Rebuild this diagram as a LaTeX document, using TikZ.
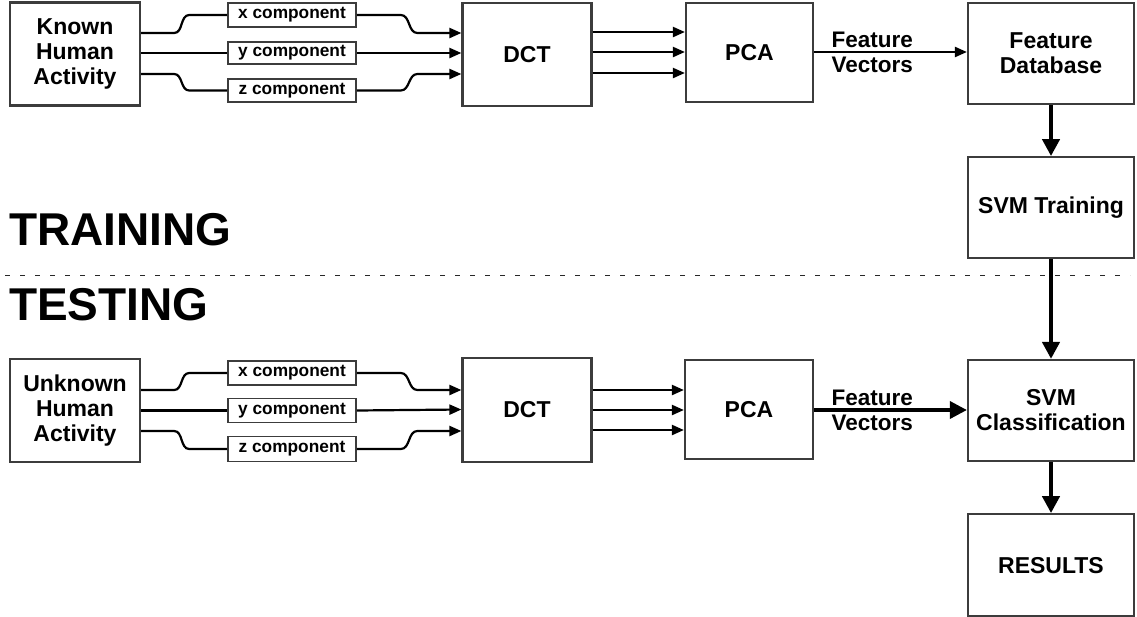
\documentclass[tikz,border=0pt]{standalone}
\usepackage{fontspec}
\setmainfont{Liberation Sans}
\usepackage{xcolor}
\definecolor{boxgrey}{RGB}{60,60,60}
\definecolor{dashgrey}{RGB}{40,40,40}
\usetikzlibrary{arrows.meta,positioning}
\tikzset{
  box/.style={draw=boxgrey,line width=2.2pt,align=center,fill=white,inner sep=0pt,minimum width=129pt,minimum height=103pt,font=\fontsize{23}{25}\selectfont\bfseries},
  wbox/.style={box,minimum width=166pt,minimum height=102pt},
  comp/.style={draw=boxgrey,line width=1.6pt,fill=white,inner sep=0pt,minimum width=128pt,minimum height=24pt,font=\fontsize{17.3}{20}\selectfont\bfseries},
  lab/.style={align=center,inner sep=0pt,font=\fontsize{22.5}{25}\selectfont\bfseries,text=black},
  phase/.style={anchor=base west,inner sep=0pt,font=\fontsize{46}{50}\selectfont\bfseries},
  wire/.style={line width=2.2pt,draw=black},
  arr/.style={wire,-{Triangle[length=12pt,width=10pt]}},
  fatarr/.style={line width=3.5pt,draw=black,-{Triangle[length=17pt,width=17pt]}},
  bigarr/.style={line width=4.5pt,draw=black,-{Triangle[length=17pt,width=17pt]}},
  dashline/.style={line width=1pt,draw=dashgrey,dash pattern=on 5pt off 10pt},
}

\begin{document}
\begin{tikzpicture}[x=1pt,y=-1pt]
    \useasboundingbox (0,0) rectangle (1137,616);
    % training
    \node[box,minimum width=130pt] (known) at (75,54) {Known\\Human\\Activity};
    \node[comp] (xc1) at (292,15) {x component};
    \node[comp,minimum height=22pt] (yc1) at (292,53) {y component};
    \node[comp,minimum height=23pt] (zc1) at (292,90.5) {z component};
    \node[box] (dct1) at (527,54.5) {DCT};
    \node[box,minimum width=127pt,minimum height=99pt] (pca1) at (749.5,52.5) {PCA};
    \node[wbox,minimum height=101pt] (fdb) at (1051,53.5) {Feature\\Database};
    \node[wbox,minimum height=101pt,below=51pt of fdb] (svmt) {SVM Training};
    \draw[wire] ([yshift=21pt]known.east) -- ++(33,0) to[out=0,in=180] ([xshift=-38pt]xc1.west) -- (xc1.west);
    \draw[wire] ([yshift=1pt]known.east) -- (yc1.west);
    \draw[wire] ([yshift=-20pt]known.east) -- ++(33,0) to[out=0,in=180] ([xshift=-38pt]zc1.west) -- (zc1.west);
    \draw[arr] (xc1.east) -- ++(44,0) to[out=0,in=180] ([xshift=-44pt,yshift=21.5pt]dct1.west) -- ([yshift=21.5pt]dct1.west);
    \draw[arr] (yc1.east) -- ([yshift=1.5pt]dct1.west);
    \draw[arr] (zc1.east) -- ++(44,0) to[out=0,in=180] ([xshift=-44pt,yshift=-19.5pt]dct1.west) -- ([yshift=-19.5pt]dct1.west);
    \foreach \s in {22.5,2.5,-18.5}
      \draw[arr] ([yshift=\s pt]dct1.east) -- ([yshift=\s pt]dct1.east -| pca1.west);
    \draw[arr] ([yshift=0.5pt]pca1.east) -- ([yshift=0.5pt]pca1.east -| fdb.west) node[lab,pos=0.38] {Feature\\Vectors};
    \draw[bigarr] (fdb.south) -- (svmt.north);
    % divider
    \node[phase] (train) at (9,245) {TRAINING};
    \draw[dashline] (5,275) -- (1130,275);
    \node[phase] (test) at (9,320) {TESTING};
    % testing
    \node[box,minimum width=130pt] (unknown) at (75,410.5) {Unknown\\Human\\Activity};
    \node[comp] (xc2) at (292,373) {x component};
    \node[comp] (yc2) at (292,410.5) {y component};
    \node[comp,minimum height=25pt] (zc2) at (292,449) {z component};
    \node[box,minimum height=104pt] (dct2) at (527,410) {DCT};
    \node[box,minimum width=128pt,minimum height=99pt] (pca2) at (749,409.5) {PCA};
    \node[wbox,minimum height=101pt] (svmc) at (1051,410.5) {SVM\\Classification};
    \node[wbox,below=51pt of svmc] (res) {RESULTS};
    \draw[wire] ([yshift=20.5pt]unknown.east) -- ++(33,0) to[out=0,in=180] ([xshift=-38pt]xc2.west) -- (xc2.west);
    \draw[wire] (unknown.east) -- (yc2.west);
    \draw[wire] ([yshift=-20.5pt]unknown.east) -- ++(33,0) to[out=0,in=180] ([xshift=-38pt]zc2.west) -- (zc2.west);
    \draw[arr] (xc2.east) -- ++(44,0) to[out=0,in=180] ([xshift=-44pt,yshift=20pt]dct2.west) -- ([yshift=20pt]dct2.west);
    \draw[arr] (yc2.east) -- ([yshift=0.5pt]dct2.west);
    \draw[arr] (zc2.east) -- ++(44,0) to[out=0,in=180] ([xshift=-44pt,yshift=-21pt]dct2.west) -- ([yshift=-21pt]dct2.west);
    \foreach \s in {20,0,-20}
      \draw[arr] ([yshift=\s pt]dct2.east) -- ([yshift=\s pt]dct2.east -| pca2.west);
    \draw[fatarr] ([yshift=-0.5pt]pca2.east) -- ([yshift=-0.5pt]pca2.east -| svmc.west) node[lab,pos=0.38] {Feature\\Vectors};
    \draw[bigarr] (svmt.south) -- (svmc.north);
    \draw[bigarr] (svmc.south) -- (res.north);
  \end{tikzpicture}
\end{document}
